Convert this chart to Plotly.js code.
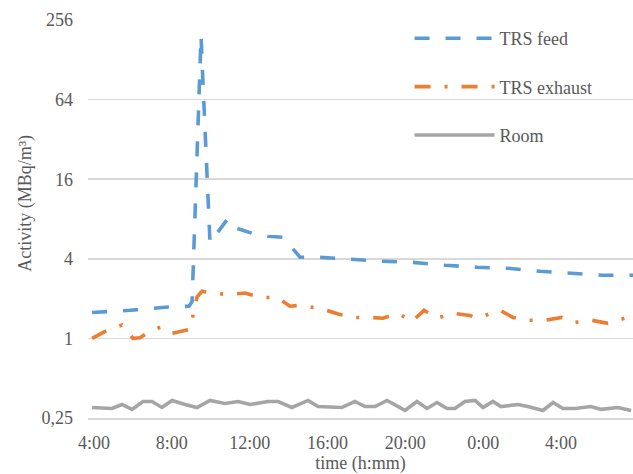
<!DOCTYPE html>
<html>
<head>
<meta charset="utf-8">
<script src="https://cdn.plot.ly/plotly-3.0.1.min.js"></script>
<style>html,body{margin:0;padding:0;background:#fff;}#chart{width:633px;height:474px;}</style>
</head>
<body>
<div id="chart"></div>
<script>
// time in hours since 0:00 of day 1 (values >24 are next day)
const feedHours  = [3.9, 5.85, 7.65, 8.88, 9.04, 9.4, 9.5, 9.58, 9.96, 10.89, 11.35, 12.12, 12.94, 13.71, 14.17, 14.59, 15.5, 17.16, 18.8, 20.39, 22.04, 23.68, 25.27, 26.92, 28.56, 30.16, 31.7];
const feedValues = [1.57, 1.63, 1.72, 1.75, 1.9, 95, 195, 100, 5.3, 8.1, 6.8, 6.24, 5.92, 5.82, 4.8, 4.11, 4.11, 3.96, 3.83, 3.76, 3.57, 3.45, 3.39, 3.22, 3.11, 3.0, 3.0];

const exhaustHours  = [3.9, 4.67, 5.44, 6.0, 6.36, 6.88, 7.44, 8.01, 8.93, 9.29, 9.55, 10.06, 10.83, 11.76, 12.53, 13.40, 14.07, 14.59, 14.95, 15.77, 16.59, 17.41, 18.18, 18.85, 19.62, 20.34, 20.96, 21.63, 22.45, 23.32, 23.68, 24.2, 24.86, 25.53, 26.3, 27.18, 28.05, 28.72, 29.59, 30.41, 31.18, 31.6];
const exhaustValues = [1.0, 1.15, 1.26, 1.0, 1.01, 1.13, 1.22, 1.09, 1.17, 2.05, 2.27, 2.2, 2.15, 2.2, 2.04, 2.04, 1.75, 1.78, 1.75, 1.66, 1.52, 1.44, 1.44, 1.42, 1.55, 1.34, 1.63, 1.42, 1.55, 1.49, 1.42, 1.52, 1.63, 1.44, 1.37, 1.37, 1.44, 1.32, 1.37, 1.30, 1.42, 1.47];

const roomHours  = [3.9, 4.92, 5.44, 5.95, 6.52, 6.98, 7.49, 8.01, 8.68, 9.29, 9.96, 10.73, 11.4, 12.02, 12.94, 13.46, 14.17, 15.0, 15.51, 16.74, 17.41, 17.93, 18.44, 19.06, 19.98, 20.6, 21.11, 21.63, 22.14, 22.55, 23.06, 23.58, 23.99, 24.5, 24.91, 25.79, 26.3, 27.07, 27.59, 28.1, 28.72, 29.54, 30.05, 30.93, 31.6];
const roomValues = [0.30, 0.295, 0.316, 0.29, 0.333, 0.333, 0.30, 0.339, 0.316, 0.30, 0.339, 0.322, 0.333, 0.316, 0.333, 0.333, 0.30, 0.339, 0.305, 0.30, 0.333, 0.305, 0.305, 0.339, 0.285, 0.333, 0.295, 0.327, 0.295, 0.295, 0.333, 0.339, 0.30, 0.333, 0.305, 0.316, 0.305, 0.285, 0.327, 0.295, 0.295, 0.305, 0.29, 0.30, 0.285];

const xTickVals = [4, 8, 12, 16, 20, 24, 28];
const xTickText = ['4:00', '8:00', '12:00', '16:00', '20:00', '0:00', '4:00'];
const yTickVals = [0.25, 1, 4, 16, 64, 256];
const yTickText = ['0,25', '1', '4', '16', '64', '256'];
const seriesNames = ['TRS feed', 'TRS exhaust', 'Room'];
const xTitle = 'time (h:mm)';
const yTitle = 'Activity (MBq/m³)';

const FONT = 'Liberation Serif, Times New Roman, serif';
const TXT = '#595959';

const traces = [
  {x: feedHours, y: feedValues, name: seriesNames[0], legendgroup: 'a', type: 'scatter', mode: 'lines',
   line: {color: '#5B9BD5', width: 3.6, dash: '15px,16px'}},
  {x: exhaustHours, y: exhaustValues, name: seriesNames[1], legendgroup: 'b', type: 'scatter', mode: 'lines',
   line: {color: '#ED7D31', width: 3.6, dash: '16px,14px,3px,14px'}},
  {x: roomHours, y: roomValues, name: seriesNames[2], legendgroup: 'c', type: 'scatter', mode: 'lines',
   line: {color: '#A5A5A5', width: 3.6}}
];

const layout = {
  width: 633, height: 474,
  margin: {l: 88, r: 0, t: 20, b: 56, pad: 0},
  paper_bgcolor: '#fff', plot_bgcolor: '#fff',
  font: {family: FONT, size: 18, color: TXT},
  showlegend: true,
  legend: {x: 0.59, y: 1, xanchor: 'left', yanchor: 'top', bgcolor: 'rgba(0,0,0,0)',
           font: {family: FONT, size: 18, color: TXT}, tracegroupgap: 22, itemwidth: 80},
  xaxis: {type: 'linear', range: [3.69, 31.7], tickvals: xTickVals, ticktext: xTickText,
          showgrid: false, zeroline: false, showline: true, linecolor: '#D9D9D9', linewidth: 1.5,
          ticks: '', ticklabelstandoff: 8, tickfont: {family: FONT, size: 18, color: TXT},
          title: {text: xTitle, font: {family: FONT, size: 18, color: TXT}, standoff: 4}},
  yaxis: {type: 'log', range: [Math.log10(0.25) - 0.0005, Math.log10(256) + 0.0005],
          tickvals: yTickVals, ticktext: yTickText,
          showgrid: true, gridcolor: '#D9D9D9', gridwidth: 1.5, zeroline: false, showline: false,
          ticks: '', ticklabelstandoff: 14, tickfont: {family: FONT, size: 18, color: TXT}},
  annotations: [
    {text: yTitle, textangle: -90, xref: 'paper', yref: 'paper', x: -0.116, y: 0.54,
     xanchor: 'center', yanchor: 'middle', showarrow: false,
     font: {family: FONT, size: 18, color: TXT}}
  ]
};

Plotly.newPlot('chart', traces, layout, {displayModeBar: false, staticPlot: true});
</script>
</body>
</html>
